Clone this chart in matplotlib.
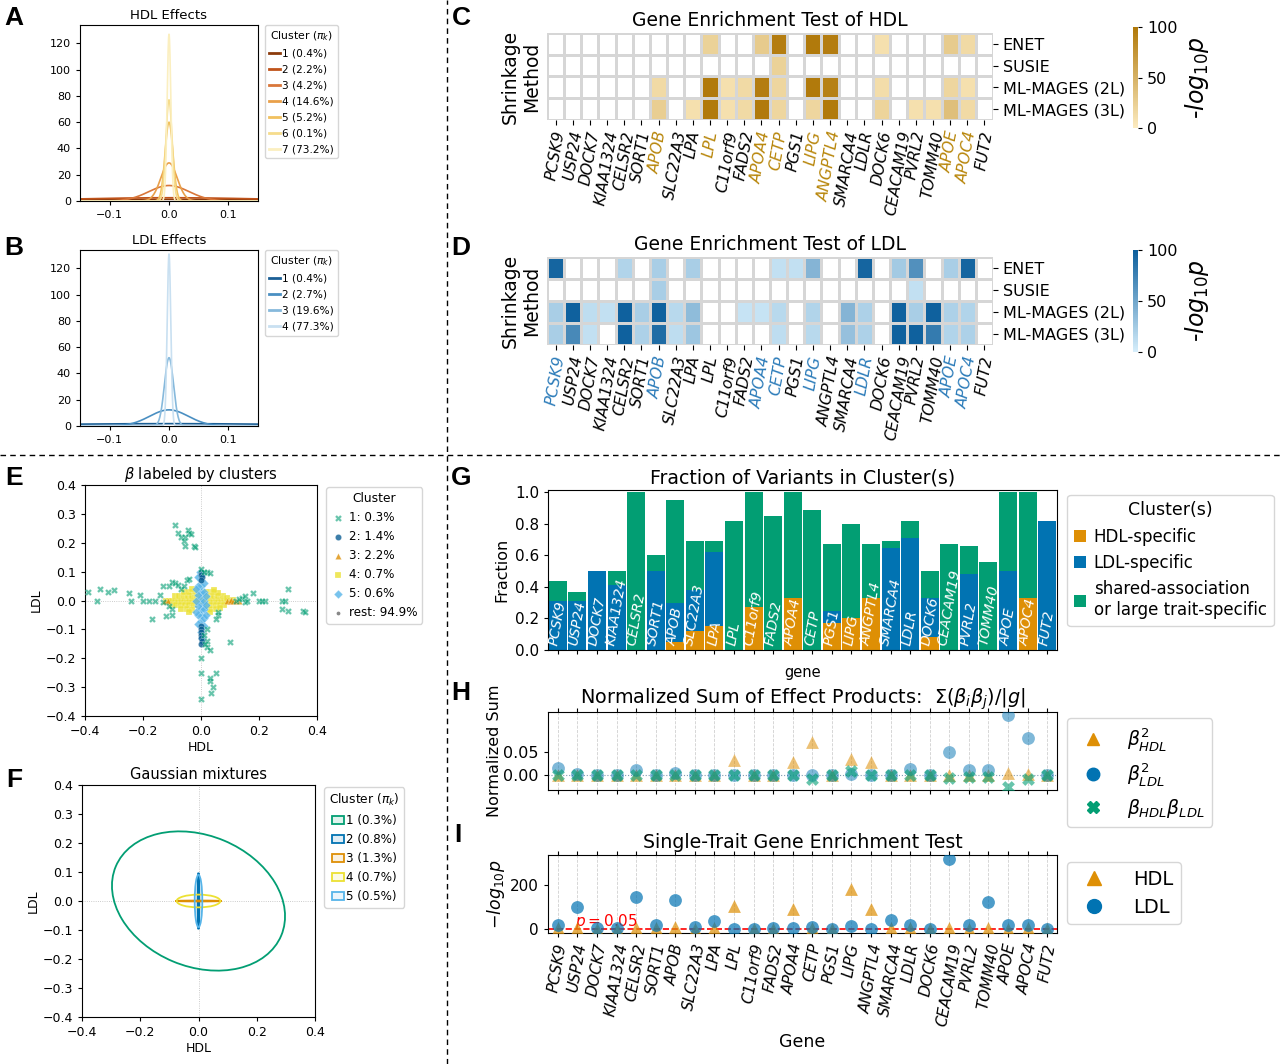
import numpy as np
import matplotlib
matplotlib.use('Agg')
import matplotlib.pyplot as plt
from matplotlib.colors import LinearSegmentedColormap, to_rgba
from matplotlib.patches import Ellipse, Patch
from matplotlib.lines import Line2D

# ---------------- data ----------------
genes = ['PCSK9', 'USP24', 'DOCK7', 'KIAA1324', 'CELSR2', 'SORT1', 'APOB', 'SLC22A3',
         'LPA', 'LPL', 'C11orf9', 'FADS2', 'APOA4', 'CETP', 'PGS1', 'LIPG', 'ANGPTL4',
         'SMARCA4', 'LDLR', 'DOCK6', 'CEACAM19', 'PVRL2', 'TOMM40', 'APOE', 'APOC4', 'FUT2']
methods = ['ENET', 'SUSIE', 'ML-MAGES (2L)', 'ML-MAGES (3L)']

n = np.nan
hdl_heat = [
    [n, n, n, n, n, n, n, n, n, 22, n, n, 28, 95, n, 98, 95, n, n, 10, n, n, n, 28, 15, n],
    [n, n, n, n, n, n, n, n, n, n, n, n, n, 22, n, n, n, n, n, n, n, n, n, n, n, n],
    [n, n, n, n, n, n, 15, n, n, 98, 10, 15, 95, 18, n, 98, 92, n, n, 12, n, n, n, 18, 10, n],
    [n, n, n, n, n, n, 25, n, 10, 98, 10, 15, 98, 18, n, 18, 98, n, n, 20, n, 10, 10, 38, 15, n],
]
ldl_heat = [
    [95, n, n, n, 18, n, 22, n, 22, n, n, n, n, 10, 10, 40, n, n, 95, n, 25, 65, n, 22, 95, n],
    [n, n, n, n, n, n, 22, n, n, n, n, n, n, n, n, n, n, n, n, n, n, 10, n, n, n, n],
    [22, 98, 12, 10, 98, 22, 98, 15, 35, n, n, 8, 8, 15, n, 18, n, 40, 20, n, 98, 22, 98, 20, 18, n],
    [22, 70, 10, n, 98, 20, 90, 12, 28, n, n, n, n, 12, n, 15, n, 32, 20, n, 98, 98, 80, 18, 20, n],
]
hdl_genes_hi = ['APOB', 'LPL', 'APOA4', 'CETP', 'LIPG', 'ANGPTL4', 'APOE', 'APOC4']
ldl_genes_hi = ['PCSK9', 'APOB', 'APOA4', 'CETP', 'LIPG', 'LDLR', 'APOE', 'APOC4']

# mixture components (peak density)
hdl_labels = ['1 (0.4%)', '2 (2.2%)', '3 (4.2%)', '4 (14.6%)', '5 (5.2%)', '6 (0.1%)', '7 (73.2%)']
hdl_peak = [1.3, 2.5, 11.8, 29, 60, 77, 127]
ldl_labels = ['1 (0.4%)', '2 (2.7%)', '3 (19.6%)', '4 (77.3%)']
ldl_peak = [1.8, 12.3, 52, 131]

# clustered effects (HDL, LDL)
clu1_pts = [(-0.09, 0.26), (-0.045, 0.245), (-0.08, 0.235), (-0.07, 0.22), (-0.04, 0.235),
            (-0.055, 0.22), (-0.06, 0.205), (-0.055, 0.19), (-0.025, 0.19), (-0.02, 0.185),
            (-0.035, 0.23), (-0.39, 0.03), (-0.35, 0.04), (-0.32, 0.03), (-0.30, 0.035),
            (-0.36, 0.0), (-0.25, 0.025), (-0.24, 0.0), (-0.21, 0.02), (-0.20, 0.0),
            (-0.18, 0.0), (-0.16, 0.0), (-0.14, 0.02), (-0.13, -0.005), (-0.17, -0.065),
            (-0.12, -0.055), (-0.10, -0.05), (-0.10, -0.03), (-0.11, -0.02), (-0.13, 0.05),
            (-0.11, 0.05), (-0.10, 0.065), (-0.09, 0.06), (-0.08, 0.055), (-0.07, 0.04),
            (-0.05, 0.07), (-0.06, 0.05), (-0.04, 0.075), (0.12, 0.0), (0.14, 0.01),
            (0.15, 0.015), (0.15, -0.005), (0.16, 0.0), (0.18, 0.025), (0.20, 0.0),
            (0.22, 0.0), (0.21, 0.0), (0.28, 0.0), (0.29, 0.0), (0.28, -0.03), (0.30, -0.035),
            (0.30, 0.04), (0.35, -0.035), (0.36, -0.04), (0.10, -0.145), (0.06, -0.05),
            (0.05, -0.065), (0.06, -0.04), (0.13, 0.005), (0.0, 0.11), (0.02, 0.10),
            (0.01, 0.10), (0.03, 0.095), (0.02, -0.10), (0.01, -0.12), (0.02, -0.14),
            (0.02, -0.16), (0.03, -0.17), (0.015, -0.15), (0.0, -0.20), (0.0, -0.25),
            (0.05, -0.25), (0.03, -0.28), (0.04, -0.30), (0.035, -0.32), (0.03, -0.27),
            (0.0, -0.34)]
clu2_pts = [(0.0, 0.10), (0.0, 0.09), (0.003, 0.08), (0.0, 0.07), (0.0, -0.09), (0.0, -0.10),
            (0.0, -0.11), (0.0, -0.12), (0.0, -0.13), (0.003, -0.14), (0.0, -0.15)]
clu3_pts = [(-0.125, 0.0), (-0.115, -0.003), (0.09, 0.0), (0.10, 0.0), (0.105, 0.003),
            (0.11, -0.002), (0.12, 0.0), (0.13, 0.0)]
clu4_pts = [(-0.12, 0.0), (-0.11, 0.0), (-0.10, 0.0), (-0.09, 0.0), (-0.08, 0.0), (-0.07, 0.0),
            (-0.06, 0.0), (-0.05, 0.0), (-0.04, 0.0), (-0.03, 0.0), (-0.02, 0.0), (-0.01, 0.0),
            (0.01, 0.0), (0.02, 0.0), (0.03, 0.0), (0.04, 0.0), (0.05, 0.0), (0.06, 0.0),
            (0.07, 0.0), (0.08, 0.0), (0.09, 0.0), (0.10, 0.0), (0.11, 0.002),
            (-0.09, 0.015), (-0.075, 0.015), (-0.06, 0.015), (-0.045, 0.015), (-0.03, 0.015),
            (-0.015, 0.015), (0.015, 0.015), (0.03, 0.015), (0.045, 0.015), (0.06, 0.015),
            (0.075, 0.015), (0.09, 0.01), (-0.10, -0.015), (-0.085, -0.015), (-0.07, -0.015),
            (-0.055, -0.015), (-0.04, -0.015), (-0.025, -0.015), (0.02, -0.015), (0.035, -0.015),
            (0.05, -0.015), (0.065, -0.015), (0.08, -0.015), (-0.06, 0.028), (-0.04, 0.03),
            (-0.02, 0.033), (0.02, 0.03), (0.04, 0.028), (0.06, 0.025), (-0.07, -0.028),
            (-0.05, -0.03), (-0.03, -0.033), (0.03, -0.03), (0.05, -0.028), (0.065, -0.025),
            (-0.03, 0.04), (0.03, -0.04), (-0.04, -0.04), (0.045, 0.038)]
clu5_pts = [(0.0, -0.11), (0.0, -0.09), (0.0, -0.07), (0.0, -0.05), (0.0, -0.03), (0.0, -0.01),
            (0.0, 0.01), (0.0, 0.03), (0.0, 0.05), (0.0, 0.07), (0.0, 0.09),
            (-0.01, -0.08), (-0.01, -0.05), (-0.01, -0.02), (-0.01, 0.02), (-0.01, 0.05),
            (-0.01, 0.08), (0.01, -0.09), (0.01, -0.06), (0.01, -0.03), (0.01, 0.0),
            (0.01, 0.03), (0.01, 0.06), (-0.016, 0.0), (-0.016, -0.04), (-0.016, 0.04),
            (0.016, -0.015), (0.016, 0.015), (0.016, -0.05), (0.005, -0.13), (-0.005, 0.1)]
rest_pts = [(0.0, 0.0), (0.004, 0.003), (-0.004, -0.003), (0.003, -0.004), (-0.003, 0.004)]
e_labels = ['1: 0.3%', '2: 1.4%', '3: 2.2%', '4: 0.7%', '5: 0.6%', 'rest: 94.9%']

# gaussian mixture ellipses
f_labels = ['1 (0.3%)', '2 (0.8%)', '3 (1.3%)', '4 (0.7%)', '5 (0.5%)']
ell_w = [0.616, 0.006, 0.16, 0.15, 0.026]
ell_h = [0.452, 0.195, 0.003, 0.044, 0.18]
ell_ang = [-22.8, 0, 0, 0, 0]

# fraction of variants per gene
frac_hdl = [0, 0, 0, 0, 0, 0, 0.05, 0.12, 0.15, 0, 0.27, 0, 0.33, 0, 0.17, 0.20, 0.33,
            0, 0, 0.08, 0, 0, 0, 0, 0.33, 0]
frac_ldl = [0.31, 0.31, 0.50, 0.41, 0, 0.50, 0.25, 0.26, 0.47, 0, 0, 0, 0, 0, 0.08, 0, 0,
            0.65, 0.71, 0.25, 0, 0.48, 0, 0.50, 0, 0.82]
frac_shared = [0.13, 0.06, 0, 0.09, 1.0, 0.10, 0.65, 0.31, 0.07, 0.82, 0.73, 0.85, 0.67, 0.89,
               0.42, 0.60, 0.34, 0.04, 0.11, 0.17, 0.67, 0.18, 0.56, 0.50, 0.67, 0]

# normalized sums of effect products
ns_hdl2 = [0, 0, 0, 0, 0, 0, 0, 0, 0, 0.033, 0, 0, 0.028, 0.072, 0, 0.035, 0.029,
           0, 0, 0, 0, 0, 0, 0.005, 0.002, 0]
ns_ldl2 = [0.016, 0.003, 0.001, 0, 0.012, 0.001, 0.005, 0.001, 0.001, 0, 0, 0, 0, 0, 0,
           0.002, 0, 0.001, 0.014, 0, 0.05, 0.012, 0.011, 0.13, 0.08, 0]
ns_prod = [0, 0, 0, 0, 0, 0, 0, 0, 0, 0, 0, 0, 0, -0.009, 0, 0.01, 0, 0, 0, 0, -0.006,
           -0.003, -0.003, -0.025, -0.008, 0]

# single-trait enrichment (-log10 p)
st_hdl = [2, 3, 1, 1, 2, 2, 6, 1, 2, 101, 1, 1, 90, 5, 1, 181, 90, 2, 2, 1, 2, 1, 2, 1, 2, 1]
st_ldl = [17, 98, 3, 3, 142, 15, 130, 8, 36, 0, 0, 2, 2, 8, 0, 13, 0, 42, 16, 0, 317, 16,
          123, 16, 16, 0]

# ---------------- style ----------------
orange = '#de8f05'
blue = '#0173b2'
green = '#029e73'
yellow = '#ece133'
lblue = '#56b4e9'
dblue = '#0b5e94'
hdl_cols = ['#8c3b0c', '#c0531a', '#d9773a', '#e9a04a', '#f1c15f', '#f6dc8c', '#fbefc0']
ldl_cols = ['#1b5f96', '#4a8fc2', '#86b9dc', '#c9e0f1']
gold_cmap = LinearSegmentedColormap.from_list('gold', ['#fcebc0', '#b07808'])
blue_cmap = LinearSegmentedColormap.from_list('bl', ['#d6eefb', '#0b5e9c'])

fig = plt.figure(figsize=(12.8, 10.64), dpi=100)


def box(l, t, r, b):
    return [l / 1280, 1 - b / 1064, (r - l) / 1280, (b - t) / 1064]


# separators
fig.add_artist(Line2D([447 / 1280, 447 / 1280], [0, 1], color='k', lw=1, ls=(0, (4, 3))))
fig.add_artist(Line2D([0, 1], [1 - 455 / 1064, 1 - 455 / 1064], color='k', lw=1, ls=(0, (4, 3))))

for lab, px, py in [('A', 14, 18), ('B', 14, 248), ('C', 461, 18), ('D', 461, 248),
                    ('E', 14, 478), ('F', 14, 780), ('G', 461, 478), ('H', 461, 693), ('I', 458, 835)]:
    fig.text(px / 1280, 1 - py / 1064, lab, fontsize=19, fontweight='bold',
             family='Liberation Sans', ha='center', va='center')

# ---------------- A / B ----------------
xs = np.linspace(-0.15, 0.15, 1200)
for pos, peaks, cols, labs, title in [((80, 25, 258, 201), hdl_peak, hdl_cols, hdl_labels, 'HDL Effects'),
                                      ((80, 250, 258, 426), ldl_peak, ldl_cols, ldl_labels, 'LDL Effects')]:
    ax = fig.add_axes(box(*pos))
    for pk, c, lab in zip(peaks, cols, labs):
        sd = 1 / (pk * np.sqrt(2 * np.pi))
        ax.plot(xs, pk * np.exp(-xs ** 2 / (2 * sd ** 2)), color=c, lw=1.2, label=lab)
    ax.set_xlim(-0.15, 0.15)
    ax.set_ylim(0, 134)
    ax.set_xticks([-0.1, 0.0, 0.1])
    ax.set_yticks(np.arange(0, 121, 20))
    ax.tick_params(labelsize=8, length=3)
    ax.set_title(title, fontsize=9.5, pad=4)
    leg = ax.legend(title=r'Cluster ($\pi_k$)', loc='upper left', bbox_to_anchor=(1.04, 1.0),
                    fontsize=7.6, title_fontsize=7.8, handlelength=1.0, handletextpad=0.2,
                    borderaxespad=0, labelspacing=0.56)
    for l in leg.get_lines():
        l.set_linewidth(2)


# ---------------- C / D ----------------
def heat(pos, cpos, vals, cmap, title, hi, hicol):
    ax = fig.add_axes(box(*pos))
    cm = cmap.copy()
    cm.set_bad('white')
    mesh = ax.pcolormesh(np.ma.masked_invalid(np.array(vals)), cmap=cm, vmin=0, vmax=100,
                         edgecolors='#d6d6d6', linewidth=1)
    ax.set_xlim(0, len(genes))
    ax.set_ylim(len(methods), 0)
    ax.set_xticks(np.arange(len(genes)) + 0.5)
    ax.set_xticklabels(genes, rotation=80, fontsize=11.2, style='italic')
    for t, g in zip(ax.get_xticklabels(), genes):
        if g in hi:
            t.set_color(hicol)
    ax.yaxis.tick_right()
    ax.set_yticks(np.arange(len(methods)) + 0.5)
    ax.set_yticklabels(methods, fontsize=11.5)
    ax.set_ylabel('Shrinkage\nMethod', fontsize=13.5, labelpad=4)
    for s in ax.spines.values():
        s.set_visible(False)
    ax.set_title(title, fontsize=13.5, pad=5)
    cax = fig.add_axes(box(*cpos))
    cb = fig.colorbar(mesh, cax=cax)
    cb.outline.set_visible(False)
    cb.set_ticks([0, 50, 100])
    cb.ax.tick_params(labelsize=11.5, length=3)
    cb.set_label(r'-$log_{10}p$', fontsize=17, labelpad=4)


heat((547, 33, 993, 120), (1133, 27, 1138, 128), hdl_heat, gold_cmap,
     'Gene Enrichment Test of HDL', hdl_genes_hi, '#b8860b')
heat((547, 257, 993, 345), (1133, 250, 1138, 352), ldl_heat, blue_cmap,
     'Gene Enrichment Test of LDL', ldl_genes_hi, '#2b7bb9')

# ---------------- E ----------------
ax = fig.add_axes(box(85, 485, 317, 716))
ax.axhline(0, color='#bbbbbb', lw=0.6, ls=':', zorder=0)
ax.axvline(0, color='#bbbbbb', lw=0.6, ls=':', zorder=0)
p1 = np.array(clu1_pts)
p2 = np.array(clu2_pts)
p3 = np.array(clu3_pts)
p4 = np.array(clu4_pts)
p5 = np.array(clu5_pts)
pr = np.array(rest_pts)
hr = ax.scatter(pr[:, 0], pr[:, 1], s=3, color='#888888', label=e_labels[5], zorder=2)
h4 = ax.scatter(p4[:, 0], p4[:, 1], marker='s', s=22, color=yellow, alpha=0.8, lw=0.2,
                edgecolor='white', label=e_labels[3], zorder=3)
h3 = ax.scatter(p3[:, 0], p3[:, 1], marker='^', s=20, color=orange, alpha=0.8, lw=0.2,
                edgecolor='white', label=e_labels[2], zorder=3)
h5 = ax.scatter(p5[:, 0], p5[:, 1], marker='D', s=20, color=lblue, alpha=0.8, lw=0.2,
                edgecolor='white', label=e_labels[4], zorder=4)
h2 = ax.scatter(p2[:, 0], p2[:, 1], marker='o', s=20, color=dblue, alpha=0.8, lw=0.2,
                edgecolor='white', label=e_labels[1], zorder=5)
h1 = ax.scatter(p1[:, 0], p1[:, 1], marker='X', s=24, color=green, alpha=0.6, lw=0.2,
                edgecolor='white', label=e_labels[0], zorder=6)
ax.set_xlim(-0.4, 0.4)
ax.set_ylim(-0.4, 0.4)
ax.set_xticks(np.arange(-0.4, 0.41, 0.2))
ax.set_yticks(np.arange(-0.4, 0.41, 0.1))
ax.tick_params(labelsize=9, length=3)
ax.set_xlabel('HDL', fontsize=9, labelpad=2)
ax.set_ylabel('LDL', fontsize=9, labelpad=2)
ax.set_title(r'$\beta$ labeled by clusters', fontsize=10.5, pad=4)
ax.legend(handles=[h1, h2, h3, h4, h5, hr], title='Cluster', loc='upper left',
          bbox_to_anchor=(1.04, 0.99), fontsize=8.6, title_fontsize=8.8, borderaxespad=0,
          handletextpad=0.3, handlelength=1.2, labelspacing=0.5)

# ---------------- F ----------------
ax = fig.add_axes(box(82, 785, 315, 1017))
ax.axhline(0, color='#bbbbbb', lw=0.6, ls=':', zorder=0)
ax.axvline(0, color='#bbbbbb', lw=0.6, ls=':', zorder=0)
f_cols = [green, blue, orange, yellow, lblue]
hands = []
for w, h, a, c, lab in zip(ell_w, ell_h, ell_ang, f_cols, f_labels):
    ax.add_patch(Ellipse((0, 0), w, h, angle=a, fill=False, edgecolor=c, lw=1.3))
    hands.append(Patch(facecolor=to_rgba(c, 0.12), edgecolor=c, lw=1.3, label=lab))
ax.set_xlim(-0.4, 0.4)
ax.set_ylim(-0.4, 0.4)
ax.set_xticks(np.arange(-0.4, 0.41, 0.2))
ax.set_yticks(np.arange(-0.4, 0.41, 0.1))
ax.tick_params(labelsize=9, length=3)
ax.set_xlabel('HDL', fontsize=9, labelpad=2)
ax.set_ylabel('LDL', fontsize=9, labelpad=2)
ax.set_title('Gaussian mixtures', fontsize=10.5, pad=4)
ax.legend(handles=hands, title=r'Cluster ($\pi_k$)', loc='upper left', bbox_to_anchor=(1.04, 0.99),
          fontsize=8.6, title_fontsize=8.8, borderaxespad=0, handletextpad=0.2,
          handlelength=1.0, labelspacing=0.5)

# ---------------- G ----------------
x = np.arange(len(genes))
fh = np.array(frac_hdl)
fl = np.array(frac_ldl)
fs = np.array(frac_shared)
ax = fig.add_axes(box(548, 490, 1057, 650))
ax.bar(x, fh, width=0.92, color=orange, label='HDL-specific')
ax.bar(x, fl, bottom=fh, width=0.92, color=blue, label='LDL-specific')
ax.bar(x, fs, bottom=fh + fl, width=0.92, color=green,
       label='shared-association\nor large trait-specific')
for i, g in enumerate(genes):
    ax.text(i, 0.02, g, rotation=80, color='white', style='italic', fontsize=10,
            ha='center', va='bottom')
ax.set_xlim(-0.5, len(genes) - 0.5)
ax.set_ylim(0, 1.015)
ax.set_xticks(x)
ax.set_xticklabels([])
ax.set_yticks(np.arange(0, 1.01, 0.2))
ax.tick_params(labelsize=11, length=3)
ax.set_xlabel('gene', fontsize=10.5)
ax.set_ylabel('Fraction', fontsize=11.5)
ax.set_title('Fraction of Variants in Cluster(s)', fontsize=13.7, pad=5)
ax.legend(title='Cluster(s)', loc='upper left', bbox_to_anchor=(1.02, 0.97), fontsize=12,
          title_fontsize=12.5, borderaxespad=0, handlelength=0.7, handletextpad=0.5)

# ---------------- H ----------------
ax = fig.add_axes(box(548, 712, 1057, 790))
ax.grid(axis='x', ls='--', color='#d0d0d0', lw=0.6)
ax.axhline(0, color='#7f9bb0', lw=0.8, ls=':', zorder=1)
ax.scatter(x, ns_hdl2, marker='^', s=85, color=orange, alpha=0.55, lw=0, zorder=3)
ax.scatter(x, ns_ldl2, marker='o', s=85, color=blue, alpha=0.5, lw=0, zorder=4)
ax.scatter(x, ns_prod, marker='X', s=85, color=green, alpha=0.6, lw=0, zorder=5)
ax.set_xlim(-0.5, len(genes) - 0.5)
ax.set_ylim(-0.032, 0.136)
ax.set_xticks(x)
ax.set_xticklabels([])
ax.set_yticks([0, 0.05])
ax.set_yticklabels(['0.00', '0.05'])
ax.tick_params(labelsize=11.5, length=3, top=True)
ax.set_ylabel('Normalized Sum', fontsize=11.5, labelpad=1)
ax.set_title(r'Normalized Sum of Effect Products:  $\Sigma(\beta_i\beta_j)/|g|$', fontsize=13.9, pad=5)
hh = [Line2D([], [], ls='', marker='^', ms=9, color=orange, label=r'$\beta^2_{HDL}$'),
      Line2D([], [], ls='', marker='o', ms=9, color=blue, label=r'$\beta^2_{LDL}$'),
      Line2D([], [], ls='', marker='X', ms=9, color=green, label=r'$\beta_{HDL}\beta_{LDL}$')]
ax.legend(handles=hh, loc='upper left', bbox_to_anchor=(1.02, 0.92), fontsize=13.5,
          borderaxespad=0, labelspacing=0.45, handletextpad=0.8)

# ---------------- I ----------------
ax = fig.add_axes(box(548, 855, 1057, 933))
ax.grid(axis='x', ls='--', color='#d0d0d0', lw=0.6)
ax.axhline(-np.log10(0.05), color='red', ls='--', lw=1.2, zorder=2)
ax.text(0.9, 12, r'$p=0.05$', color='red', fontsize=11)
ax.scatter(x, st_hdl, marker='^', s=85, color=orange, alpha=0.7, lw=0, zorder=3)
ax.scatter(x, st_ldl, marker='o', s=85, color=blue, alpha=0.7, lw=0, zorder=4)
ax.set_xlim(-0.5, len(genes) - 0.5)
ax.set_ylim(-19, 334)
ax.set_xticks(x)
ax.set_xticklabels(genes, rotation=80, fontsize=12.8, style='italic')
ax.set_yticks([0, 200])
ax.tick_params(labelsize=11, length=3, top=True)
ax.set_xlabel('Gene', fontsize=12.5)
ax.set_ylabel(r'$-log_{10}p$', fontsize=12.5, labelpad=2)
ax.set_title('Single-Trait Gene Enrichment Test', fontsize=13.7, pad=5)
hi_ = [Line2D([], [], ls='', marker='^', ms=10, color=orange, label='HDL'),
       Line2D([], [], ls='', marker='o', ms=10, color=blue, label='LDL')]
ax.legend(handles=hi_, loc='upper left', bbox_to_anchor=(1.02, 0.91), fontsize=14,
          borderaxespad=0, labelspacing=0.45, handletextpad=1.0)

fig.savefig('out.png', dpi=100)
